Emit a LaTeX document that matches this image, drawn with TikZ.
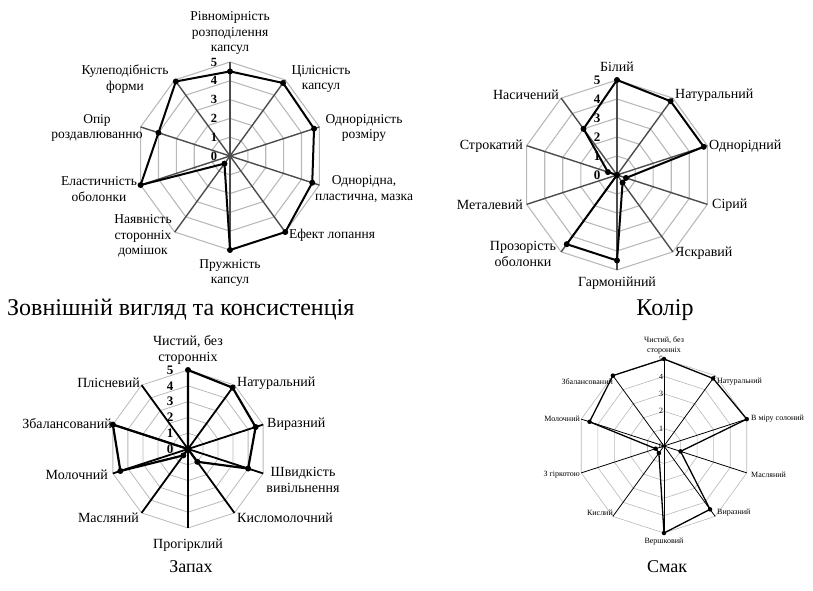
\documentclass[tikz,border=0pt]{standalone}
\usepackage{fontspec}
\setmainfont{Liberation Serif}

\begin{document}
\begin{tikzpicture}[x=1pt,y=1pt,
  ring/.style={draw=gray!55,line width=1.1pt},
  spoke/.style={draw=black!70,line width=1.4pt},
  series/.style={draw=black,line width=2pt,line join=round},
  dot/.style={circle,fill=black,inner sep=0pt,minimum size=6pt},
  lbl/.style={align=center,inner sep=0pt},
  num/.style={inner sep=0pt,font=\fontsize{12.5}{14}\selectfont\bfseries},
  title/.style={inner sep=0pt}]
\useasboundingbox (0,0) rectangle (813,590);

% ---- Зовнішній вигляд та консистенція
\begin{scope}[shift={(230,434)}]
  \coordinate (a) at (0,0);
  \foreach \r in {1,...,5}
    \draw[ring] (90:\r*18.8) \foreach \i in {1,...,9} {-- ({90-36*\i}:{\r*18.8})} -- cycle;
  \foreach \i in {0,...,9} {
    \coordinate (ao\i) at ({90-36*\i}:94);
    \draw[spoke] (a) -- (ao\i);
  }
  \foreach \v [count=\i from 0] in {4.5,4.8,4.7,4.6,5,5,0.5,5,4,4.9}
    \coordinate (a\i) at ({90-36*\i}:{\v*18.8});
  \draw[series] (a0) \foreach \i in {1,...,9} {-- (a\i)} -- cycle;
  \foreach \i in {0,...,9} \node[dot] at (a\i) {};
  \foreach \n in {0,...,5} \node[num] at (-16,\n*18.8) {\n};
\end{scope}
\begin{scope}[every node/.style={lbl,font=\fontsize{13.5}{15.5}\selectfont}]
  \node (la0) at (230,557) {Рівномірність\\розподілення\\капсул};
  \node (la1) at (321,511) {Цілісність\\капсул};
  \node (la2) at (364,462) {Однорідність\\розміру};
  \node (la3) at (364,401) {Однорідна,\\пластична, мазка};
  \node (la4) at (332,355) {Ефект лопання};
  \node (la5) at (230,317) {Пружність\\капсул};
  \node (la6) at (143,354) {Наявність\\сторонніх\\домішок};
  \node (la7) at (99,401) {Еластичність\\оболонки};
  \node (la8) at (97,462) {Опір\\роздавлюванню};
  \node (la9) at (125,511) {Кулеподібність\\форми};
\end{scope}

% ---- Колір
\begin{scope}[shift={(617,415)}]
  \coordinate (b) at (0,0);
  \foreach \r in {1,...,5}
    \draw[ring] (90:\r*19) \foreach \i in {1,...,9} {-- ({90-36*\i}:{\r*19})} -- cycle;
  \foreach \i in {0,...,9} {
    \coordinate (bo\i) at ({90-36*\i}:95);
    \draw[spoke] (b) -- (bo\i);
  }
  \foreach \v [count=\i from 0] in {5,4.8,4.8,0.5,0.5,4.5,4.5,0,0.5,3}
    \coordinate (b\i) at ({90-36*\i}:{\v*19});
  \draw[series] (b0) \foreach \i in {1,...,9} {-- (b\i)} -- cycle;
  \foreach \i in {0,...,9} \node[dot] at (b\i) {};
  \foreach \n in {0,...,5} \node[num,font=\fontsize{13}{14}\selectfont\bfseries] at (-20,\n*19) {\n};
\end{scope}
\begin{scope}[every node/.style={lbl,font=\fontsize{14}{16}\selectfont}]
  \node (lb0) at (617,523) {Білий};
  \node[anchor=west] (lb1) at (675,495) {Натуральний};
  \node[anchor=west] (lb2) at (709,444) {Однорідний};
  \node[anchor=west] (lb3) at (712,385) {Сірий};
  \node[anchor=west] (lb4) at (675,337) {Яскравий};
  \node (lb5) at (617,307) {Гармонійний};
  \node (lb6) at (523,336) {Прозорість\\оболонки};
  \node[anchor=east] (lb7) at (523,385) {Металевий};
  \node[anchor=east] (lb8) at (523,444) {Строкатий};
  \node[anchor=east] (lb9) at (559,495) {Насичений};
\end{scope}

% ---- Запах
\begin{scope}[shift={(188,141)}]
  \coordinate (c) at (0,0);
  \foreach \r in {1,...,5}
    \draw[ring,line width=0.8pt] (90:\r*15.8) \foreach \i in {1,...,9} {-- ({90-36*\i}:{\r*15.8})} -- cycle;
  \foreach \i in {0,...,9} {
    \coordinate (co\i) at ({90-36*\i}:79);
    \draw[spoke,draw=black,line width=1.8pt] (c) -- (co\i);
  }
  \foreach \v [count=\i from 0] in {5,4.8,4.5,4,1,0,0.5,4.5,5,0}
    \coordinate (c\i) at ({90-36*\i}:{\v*15.8});
  \draw[series,line width=2.2pt] (c0) \foreach \i in {1,...,9} {-- (c\i)} -- cycle;
  \foreach \i in {0,...,9} \node[dot] at (c\i) {};
  \foreach \n in {0,...,5} \node[num,font=\fontsize{13}{14}\selectfont\bfseries] at (-18,\n*15.8) {\n};
\end{scope}
\begin{scope}[every node/.style={lbl,font=\fontsize{14}{16}\selectfont}]
  \node (lc0) at (188,240) {Чистий, без\\сторонніх};
  \node[anchor=west] (lc1) at (237,207) {Натуральний};
  \node[anchor=west] (lc2) at (267,166) {Виразний};
  \node (lc3) at (303,110) {Швидкість\\вивільнення};
  \node[anchor=west] (lc4) at (237,72) {Кисломолочний};
  \node (lc5) at (188,45) {Прогірклий};
  \node[anchor=east] (lc6) at (139,72) {Масляний};
  \node[anchor=east] (lc7) at (108,115) {Молочний};
  \node[anchor=east] (lc8) at (112,166) {Збалансований};
  \node[anchor=east] (lc9) at (140,207) {Плісневий};
\end{scope}

% ---- Смак
\begin{scope}[shift={(664,144)}]
  \coordinate (d) at (0,0);
  \foreach \r in {1,...,5}
    \draw[ring,line width=0.6pt] (90:\r*17.4) \foreach \i in {1,...,9} {-- ({90-36*\i}:{\r*17.4})} -- cycle;
  \foreach \i in {0,...,9} {
    \coordinate (do\i) at ({90-36*\i}:87);
    \draw[spoke,draw=black,line width=0.8pt] (d) -- (do\i);
  }
  \foreach \v [count=\i from 0] in {5,4.8,5,1,4.5,5,0.5,0.5,4.5,5}
    \coordinate (d\i) at ({90-36*\i}:{\v*17.4});
  \draw[series,line width=1.3pt] (d0) \foreach \i in {1,...,9} {-- (d\i)} -- cycle;
  \foreach \i in {0,...,9} \node[dot,minimum size=4.5pt] at (d\i) {};
  \foreach \n in {0,...,5} \node[inner sep=0pt,font=\fontsize{8}{9}\selectfont] at (-3,\n*17.4) {\n};
\end{scope}
\begin{scope}[every node/.style={lbl,font=\fontsize{8}{10}\selectfont}]
  \node (ld0) at (664,245) {Чистий, без\\сторонніх};
  \node[anchor=west] (ld1) at (717,208) {Натуральний};
  \node[anchor=west] (ld2) at (751,171) {В міру солоний};
  \node[anchor=west] (ld3) at (751,115) {Масляний};
  \node[anchor=west] (ld4) at (717,77) {Виразний};
  \node (ld5) at (664,48) {Вершковий};
  \node[anchor=east] (ld6) at (613,77) {Кислий};
  \node[anchor=east] (ld7) at (580,115) {З гіркотою};
  \node[anchor=east] (ld8) at (580,171) {Молочний};
  \node[anchor=east] (ld9) at (613,208) {Збалансований};
\end{scope}

% ---- titles
\node[title,anchor=west,font=\fontsize{24}{27}\selectfont] (t1) at (7,280) {Зовнішній вигляд та консистенція};
\node[title,font=\fontsize{24}{27}\selectfont] (t2) at (665,280) {Колір};
\node[title,font=\fontsize{18}{20}\selectfont] (t3) at (191,23) {Запах};
\node[title,font=\fontsize{18}{20}\selectfont] (t4) at (667,23) {Смак};
\end{tikzpicture}
\end{document}
